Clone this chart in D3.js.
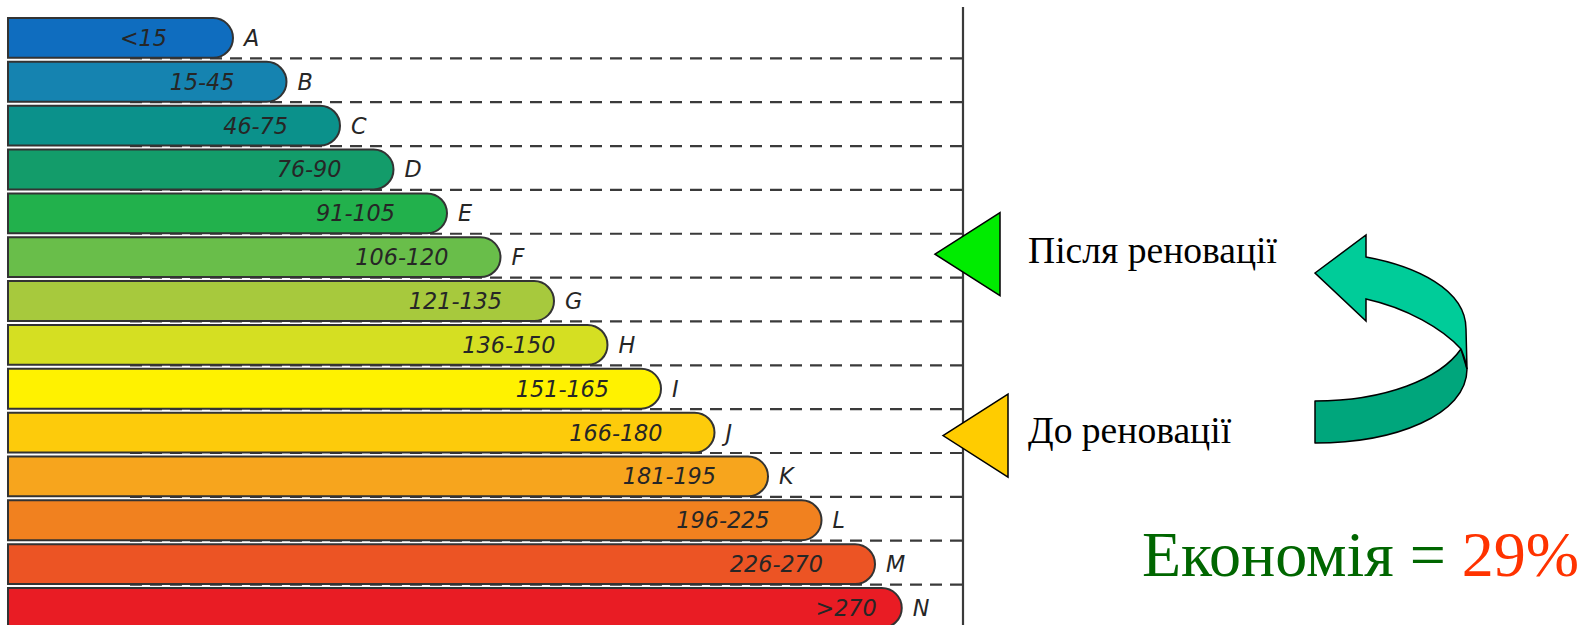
<!DOCTYPE html>
<html>
<head>
<meta charset="utf-8">
<script src="https://cdn.jsdelivr.net/npm/d3@7"></script>
<style>
  html, body { margin: 0; padding: 0; background: #fff; }
  svg { display: block; }
</style>
</head>
<body>
<svg id="chart" width="1581" height="625"></svg>
<script>
// ---------------- data ----------------
const classes = ["A","B","C","D","E","F","G","H","I","J","K","L","M","N"];
const ranges  = ["<15","15-45","46-75","76-90","91-105","106-120","121-135","136-150","151-165","166-180","181-195","196-225","226-270",">270"];
// relative bar length (in label steps)
const barLength = [1,2,3,4,5,6,7,8,9,10,11,12,13,13.5];
const barColors = ["#0f6dbf","#1583b0","#0b918b","#139c6a","#22b14c","#69be4a","#a7c93d","#d5df22","#fff200","#fdcb0b","#f7a51d","#f1811f","#ec5424","#e91c24"];

const markerLabels  = ["Після реновації","До реновації"];
const markerClasses = ["F","J"];
const markerColors  = ["#00ec00","#ffcc00"];

const savingsText  = "Економія = ";
const savingsValue = "29%";

// ---------------- drawing ----------------
const svg = d3.select("#chart");
const W = 1581, H = 625;
svg.append("rect").attr("width", W).attr("height", H).attr("fill", "#fff");

const step = 43.85;
const y = d3.scaleBand()
  .domain(classes)
  .range([18, 18 + step * (classes.length - 4 / step)])
  .paddingInner(4 / step)
  .paddingOuter(0);
const x = d3.scaleLinear().domain([0, 14]).range([179.5, 179.5 + 14 * 53.5]);
const barLeft = 8;
const axisX = 963;
const bh = y.bandwidth();

// dashed guide lines (behind bars)
const gl = svg.append("g");
classes.slice(1).forEach(c => {
  gl.append("line")
    .attr("x1", 130).attr("x2", axisX)
    .attr("y1", y(c) - 3.5).attr("y2", y(c) - 3.5)
    .attr("stroke", "#3a3a3a").attr("stroke-width", 2.2)
    .attr("stroke-dasharray", "12,8");
});

// vertical axis line
svg.append("line")
  .attr("x1", axisX).attr("x2", axisX)
  .attr("y1", 7).attr("y2", H)
  .attr("stroke", "#3a3a3a").attr("stroke-width", 2.2);

// bars
const data = classes.map((c, i) => ({ c, range: ranges[i], len: barLength[i], color: barColors[i] }));
const bars = svg.append("g");
bars.selectAll("path").data(data).join("path")
  .attr("d", d => {
    const y0 = y(d.c), x1 = x(d.len), r = bh / 2;
    return `M${barLeft},${y0} H${x1 - r} A${r},${r} 0 0 1 ${x1 - r},${y0 + bh} H${barLeft} Z`;
  })
  .attr("fill", d => d.color)
  .attr("stroke", "#333").attr("stroke-width", 2);

const inset = c => (c === "A" ? 66 : c === "N" ? 25 : 52);
bars.selectAll("text.range").data(data).join("text")
  .attr("class", "range")
  .attr("x", d => x(d.len) - inset(d.c))
  .attr("y", d => y(d.c) + bh / 2 + 8)
  .attr("text-anchor", "end")
  .attr("font-family", "DejaVu Sans, Verdana, sans-serif")
  .attr("font-style", "italic")
  .attr("font-size", 22.3)
  .attr("fill", "#262626")
  .text(d => d.range);

bars.selectAll("text.cls").data(data).join("text")
  .attr("class", "cls")
  .attr("x", d => x(d.len) + 11)
  .attr("y", d => y(d.c) + bh / 2 + 8)
  .attr("font-family", "DejaVu Sans, Verdana, sans-serif")
  .attr("font-style", "italic")
  .attr("font-size", 22.3)
  .attr("fill", "#262626")
  .text(d => d.c);

// markers (triangles pointing at classes)
const markers = markerLabels.map((l, i) => ({ label: l, c: markerClasses[i], color: markerColors[i], tipX: i === 0 ? 935 : 943 }));
const mg = svg.append("g");
markers.forEach(m => {
  const cy = y(m.c) + bh / 2 + (m.c === "F" ? -3 : 3);
  const tw = 65, th = 41.5;
  mg.append("path")
    .attr("d", `M${m.tipX},${cy} L${m.tipX + tw},${cy - th} L${m.tipX + tw},${cy + th} Z`)
    .attr("fill", m.color).attr("stroke", "#000").attr("stroke-width", 1.5)
    .attr("stroke-linejoin", "miter");
  mg.append("text")
    .attr("x", 1028)
    .attr("y", cy + (m.c === "F" ? 9 : 7))
    .attr("font-family", "Liberation Serif, Times New Roman, serif")
    .attr("font-size", 37.6)
    .attr("fill", "#000")
    .text(m.label);
});

// curved arrow (decoration)
const ag = svg.append("g").attr("transform", "translate(1315,234)");
ag.append("path")
  .attr("d", "M146,115 L152,135 C152,181 80,209 0,209 L0,167 C70,167 125,145 146,115 Z")
  .attr("fill", "#00a67c").attr("stroke", "#000").attr("stroke-width", 1.5).attr("stroke-linejoin", "round");
ag.append("path")
  .attr("d", "M0,39 L51,1 L51,23 C100,32 151,55 151,95 L152,135 C151,127 148,120 146,115 C128,95 92,74 51,65 L51,87 Z")
  .attr("fill", "#00cc99").attr("stroke", "#000").attr("stroke-width", 1.5).attr("stroke-linejoin", "miter");

// savings text
const st = svg.append("text")
  .attr("x", 1142).attr("y", 576)
  .attr("font-family", "Liberation Serif, Times New Roman, serif")
  .attr("font-size", 64);
st.append("tspan").attr("fill", "#006600").text(savingsText);
st.append("tspan").attr("fill", "#ff3300").text(savingsValue);
</script>
</body>
</html>
